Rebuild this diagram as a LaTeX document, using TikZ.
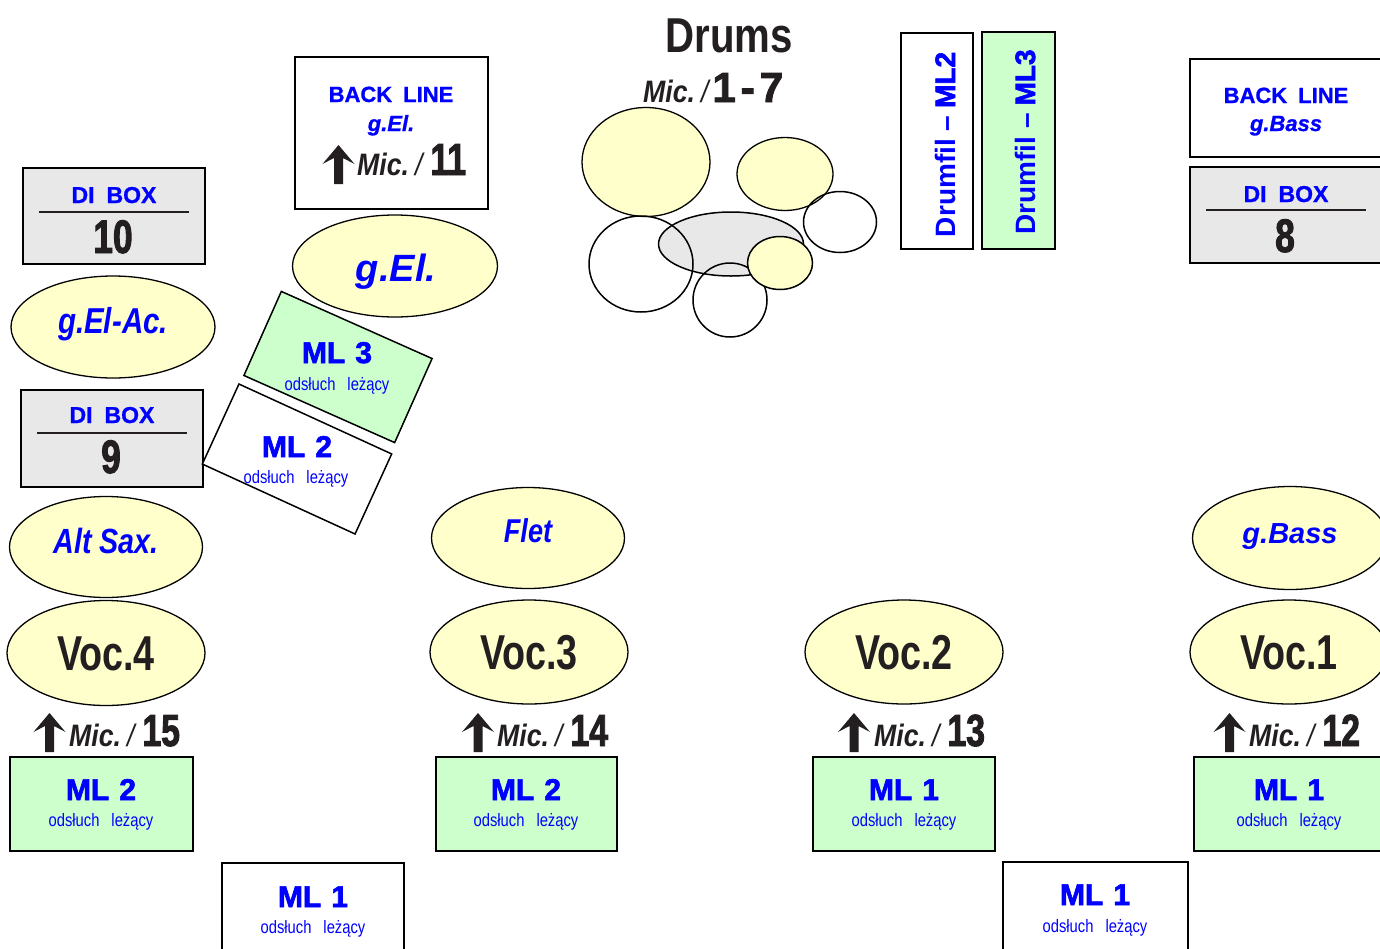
\documentclass[tikz,border=0pt]{standalone}
\usepackage{fontspec}
\setmainfont{Liberation Sans}
\newfontfamily\narrowf[FakeStretch=0.82]{Liberation Sans}
\newfontfamily\vocf[FakeStretch=0.77]{Liberation Sans}
\newfontfamily\micf[FakeStretch=0.86]{Liberation Sans}
\newfontfamily\numf[FakeStretch=0.75,FakeBold=2]{Liberation Sans}
\newfontfamily\heavyf[FakeBold=2.2]{Liberation Sans}
\newfontfamily\semif[FakeBold=1]{Liberation Sans}
\usetikzlibrary{shapes.geometric,calc}
\definecolor{myblue}{RGB}{0,0,255}
\definecolor{yfill}{RGB}{255,255,204}
\definecolor{gfill}{RGB}{204,255,204}
\definecolor{dgray}{RGB}{232,232,232}
\definecolor{tblack}{RGB}{35,31,32}
\newcommand\myfs[1]{\fontsize{#1}{#1}\selectfont}
\newcommand\mltext[1]{{\heavyf\bfseries\myfs{30}ML\hspace{10pt}#1}}
\newcommand\odsl{{\narrowf\myfs{18}ods\l{}uch\hspace{12pt}le\.z\k{a}cy}}
\newcommand\mic[1]{{\micf\bfseries\itshape\myfs{31}Mic.\hspace{6pt}{\mdseries/}\hspace{8pt}}{\numf\bfseries\myfs{45}#1}}
\tikzset{
  yell/.style={ellipse, draw=black, line width=1.3pt, fill=yfill, inner sep=0pt},
  ring/.style={ellipse, draw=black, line width=1.5pt, inner sep=0pt},
  gbox/.style={draw=black, line width=1.5pt, fill=gfill, inner sep=0pt},
  wbox/.style={draw=black, line width=1.5pt, fill=white, inner sep=0pt},
  dbox/.style={draw=black, line width=1.5pt, fill=dgray, inner sep=0pt},
  txt/.style={anchor=base, inner sep=0pt},
  bluetxt/.style={txt, text=myblue},
  blacktxt/.style={txt, text=tblack},
  uparr/.pic={\fill[tblack] (0,0) -- (16,19) -- (4.5,13) -- (4.5,39) -- (-4.5,39) -- (-4.5,13) -- (-16,19) -- cycle;}
}
\begin{document}
\begin{tikzpicture}[x=1pt,y=-1pt]
\useasboundingbox (0,0) rectangle (1380,948);
\clip (0,0) rectangle (1380,948);
\fill[white] (0,0) rectangle (1380,948);

% ---------- Drums ----------
\node[blacktxt, font=\narrowf\bfseries\myfs{49}] (drums) at (729,52) {Drums};
\node[blacktxt, anchor=base west] (mic17) at (643,102) {{\micf\bfseries\itshape\myfs{31}Mic.\hspace{6pt}{\mdseries/}\hspace{4pt}}{\heavyf\bfseries\myfs{42}1\hspace{5pt}-\hspace{5pt}7}};
\node[yell, minimum width=128pt, minimum height=109pt] (cym1) at (646,162) {};
\node[yell, minimum width=96pt, minimum height=73pt] (cym2) at (785,174) {};
\node[ring, minimum width=73pt, minimum height=61pt] (tom2) at (840,222) {};
\node[ring, fill=dgray, minimum width=145pt, minimum height=64pt] (kick) at (731,244) {};
\node[ring, minimum width=104pt, minimum height=96pt] (floor) at (641,264) {};
\node[ring, minimum width=74pt, minimum height=74pt] (snare) at (730,300) {};
\node[yell, line width=1.5pt, minimum width=65pt, minimum height=53pt] (hat) at (780,263) {};

% ---------- Drumfil ----------
\node[wbox, minimum width=72pt, minimum height=216pt] (dfil2) at (937,141) {};
\node[gbox, minimum width=73pt, minimum height=217pt] (dfil3) at (1018.5,140.5) {};
\node[bluetxt, rotate=90, font=\bfseries\myfs{28}] (dfil2t) at (955,144.5) {Drumfil -- {\heavyf ML2}};
\node[bluetxt, rotate=90, font=\bfseries\myfs{28}] (dfil3t) at (1035,142) {Drumfil -- {\heavyf ML3}};

% ---------- Right top ----------
\node[wbox, minimum width=200pt, minimum height=98pt] (blbass) at (1290,108) {};
\node[bluetxt, font=\semif\bfseries\myfs{22}] (blbass1) at (1286,103) {BACK\hspace{11pt}LINE};
\node[bluetxt, font=\semif\bfseries\itshape\myfs{22}] (blbass2) at (1286,131) {g.Bass};
\node[dbox, minimum width=200pt, minimum height=96pt] (di8) at (1290,215) {};
\draw[line width=1.5pt, tblack] (di8.center) ++(-84,-5) coordinate (di8l) -- ++(160,0) coordinate (di8r);
\node[bluetxt, font=\semif\bfseries\myfs{23}] (di8t) at (1286,202) {DI\hspace{12pt}BOX};
\node[blacktxt, font=\numf\bfseries\myfs{47}] (di8n) at (1285,252) {8};

% ---------- Left column ----------
\node[dbox, minimum width=182pt, minimum height=96pt] (di10) at (114,216) {};
\draw[line width=1.5pt, tblack] (di10.center) ++(-75,-4) coordinate (di10l) -- ++(150,0) coordinate (di10r);
\node[bluetxt, font=\semif\bfseries\myfs{23}] (di10t) at (114,203) {DI\hspace{12pt}BOX};
\node[blacktxt, font=\numf\bfseries\myfs{47}] (di10n) at (113,253) {10};

\node[yell, minimum width=204pt, minimum height=102pt] (gelac) at (113,327) {};
\node[bluetxt, font=\narrowf\bfseries\itshape\myfs{36}] (gelact) at (113,333) {g.El-Ac.};

\node[dbox, minimum width=182pt, minimum height=97pt] (di9) at (112,438.5) {};
\draw[line width=1.5pt, tblack] (di9.center) ++(-75,-5.5) coordinate (di9l) -- ++(150,0) coordinate (di9r);
\node[bluetxt, font=\semif\bfseries\myfs{23}] (di9t) at (112,423) {DI\hspace{12pt}BOX};
\node[blacktxt, font=\numf\bfseries\myfs{47}] (di9n) at (111,473) {9};

\node[yell, minimum width=193pt, minimum height=101pt] (altsax) at (106,547) {};
\node[bluetxt, font=\narrowf\bfseries\itshape\myfs{35}] (altsaxt) at (106,553) {Alt Sax.};

% ---------- Back line g.El. ----------
\node[wbox, minimum width=193pt, minimum height=152pt] (blgel) at (391.5,133) {};
\node[bluetxt, font=\semif\bfseries\myfs{22}] (blgel1) at (391,102) {BACK\hspace{11pt}LINE};
\node[bluetxt, font=\semif\bfseries\itshape\myfs{22}] (blgel2) at (391,131) {g.El.};
\pic at (338.5,145) {uparr};
\node[blacktxt, anchor=base west] (mic11) at (357,175) {\mic{11}};

\node[yell, minimum width=205pt, minimum height=102pt] (gel) at (395,266) {};
\node[bluetxt, font=\bfseries\itshape\myfs{38}] (gelt) at (396,281) {g.El.};

% ---------- Rotated monitors ----------
\node[gbox, rotate=-24, minimum width=165pt, minimum height=92pt] (ml3r) at (338,367) {};
\node[bluetxt] (ml3rt) at (337,363) {\mltext{3}};
\node[bluetxt] (ml3ro) at (337,390) {\odsl};
\node[wbox, rotate=-24.6, minimum width=168pt, minimum height=88pt] (ml2r) at (297,459) {};
\node[bluetxt] (ml2rt) at (297,457) {\mltext{2}};
\node[bluetxt] (ml2ro) at (296,483) {\odsl};

% ---------- Middle / right instruments ----------
\node[yell, minimum width=193pt, minimum height=101pt] (flet) at (528,538) {};
\node[bluetxt, font=\narrowf\bfseries\itshape\myfs{33}] (fleft) at (528,542) {Flet};
\node[yell, minimum width=195pt, minimum height=103pt] (gbass) at (1290,538) {};
\node[bluetxt, font=\bfseries\itshape\myfs{29}] (gbasst) at (1290,543) {g.Bass};

% ---------- Vocals ----------
\node[yell, minimum width=198pt, minimum height=105pt] (voc4) at (106,653) {};
\node[yell, minimum width=198pt, minimum height=104pt] (voc3) at (529,652) {};
\node[yell, minimum width=198pt, minimum height=104pt] (voc2) at (904,652) {};
\node[yell, minimum width=198pt, minimum height=104pt] (voc1) at (1289,652) {};
\node[blacktxt, font=\vocf\bfseries\myfs{49}] (voc4t) at (106,670) {Voc.4};
\node[blacktxt, font=\vocf\bfseries\myfs{49}] (voc3t) at (529,669) {Voc.3};
\node[blacktxt, font=\vocf\bfseries\myfs{49}] (voc2t) at (904,669) {Voc.2};
\node[blacktxt, font=\vocf\bfseries\myfs{49}] (voc1t) at (1289,669) {Voc.1};

% ---------- Mic labels ----------
\pic at (49.5,713) {uparr};
\node[blacktxt, anchor=base west] (mic15) at (69,746) {\mic{15}};
\pic at (478,713) {uparr};
\node[blacktxt, anchor=base west] (mic14) at (497,746) {\mic{14}};
\pic at (854,713) {uparr};
\node[blacktxt, anchor=base west] (mic13) at (874,746) {\mic{13}};
\pic at (1229.5,713) {uparr};
\node[blacktxt, anchor=base west] (mic12) at (1249,746) {\mic{12}};

% ---------- Monitors bottom ----------
\node[gbox, minimum width=183pt, minimum height=94pt] (mlA) at (101.5,804) {};
\node[bluetxt] (mlAt) at (101,800) {\mltext{2}};
\node[bluetxt] (mlAo) at (101,826) {\odsl};
\node[gbox, minimum width=181pt, minimum height=94pt] (mlB) at (526.5,804) {};
\node[bluetxt] (mlBt) at (526,800) {\mltext{2}};
\node[bluetxt] (mlBo) at (526,826) {\odsl};
\node[gbox, minimum width=182pt, minimum height=94pt] (mlC) at (904,804) {};
\node[bluetxt] (mlCt) at (904,800) {\mltext{1}};
\node[bluetxt] (mlCo) at (904,826) {\odsl};
\node[gbox, minimum width=196pt, minimum height=94pt] (mlD) at (1292,804) {};
\node[bluetxt] (mlDt) at (1289,800) {\mltext{1}};
\node[bluetxt] (mlDo) at (1289,826) {\odsl};

\node[wbox, minimum width=182pt, minimum height=97pt] (mlE) at (313,911.5) {};
\node[bluetxt] (mlEt) at (313,907) {\mltext{1}};
\node[bluetxt] (mlEo) at (313,933) {\odsl};
\node[wbox, minimum width=185pt, minimum height=98pt] (mlF) at (1095.5,911) {};
\node[bluetxt] (mlFt) at (1095,905) {\mltext{1}};
\node[bluetxt] (mlFo) at (1095,932) {\odsl};
\end{tikzpicture}
\end{document}
